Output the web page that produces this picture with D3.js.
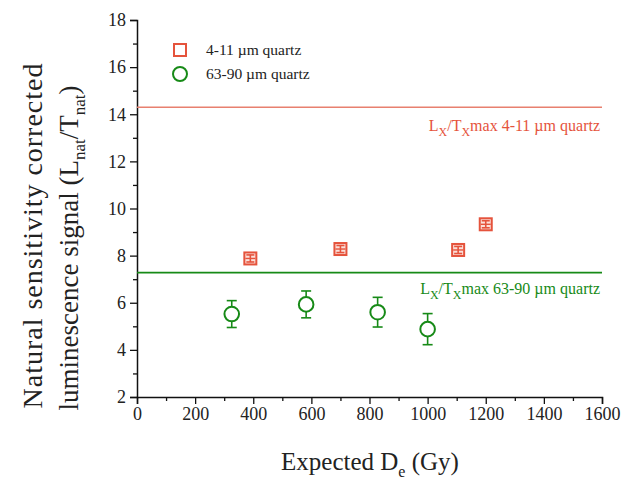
<!DOCTYPE html>
<html>
<head>
<meta charset="utf-8">
<script src="https://cdn.jsdelivr.net/npm/d3@7"></script>
<style>
  body { margin: 0; background: #fff; }
  svg text { font-family: "Liberation Serif", "DejaVu Serif", serif; }
</style>
</head>
<body>
<div id="chart"></div>
<script>
// data
var fineDose = [390, 700, 1105, 1200];
var fineSignal = [7.88, 8.28, 8.24, 9.33];
var fineErr = [0.15, 0.15, 0.15, 0.15];

var coarseDose = [326, 582, 828, 1000];
var coarseSignal = [5.52, 5.93, 5.6, 4.88];
var coarseErr = [0.57, 0.57, 0.63, 0.66];

var fineMax = 14.3;
var coarseMax = 7.28;

var xTicks = [0, 200, 400, 600, 800, 1000, 1200, 1400, 1600];
var yTicks = [2, 4, 6, 8, 10, 12, 14, 16, 18];

var red = '#e5533c', redLine = '#e8806f', green = '#178a17';

var width = 624, height = 479;
var plotLeft = 137, plotRight = 602, plotTop = 20, plotBottom = 397;

var svg = d3.select('#chart').append('svg')
  .attr('width', width).attr('height', height);

var x = d3.scaleLinear().domain([0, 1600]).range([plotLeft, plotRight]);
var y = d3.scaleLinear().domain([2, 18]).range([plotBottom, plotTop]);

// minor ticks first, then the main axes on top
svg.append('g').attr('transform', 'translate(0,' + plotBottom + ')')
  .call(d3.axisBottom(x).tickValues(d3.range(100, 1600, 200)).tickSize(4).tickFormat(''))
  .call(function(g) { g.select('.domain').remove(); });
svg.append('g').attr('transform', 'translate(' + plotLeft + ',0)')
  .call(d3.axisLeft(y).tickValues(d3.range(3, 18, 2)).tickSize(4).tickFormat(''))
  .call(function(g) { g.select('.domain').remove(); });

var xAxis = svg.append('g').attr('transform', 'translate(0,' + plotBottom + ')')
  .call(d3.axisBottom(x).tickValues(xTicks).tickFormat(d3.format('d'))
    .tickSizeOuter(0).tickSize(7).tickPadding(3));
var yAxis = svg.append('g').attr('transform', 'translate(' + plotLeft + ',0)')
  .call(d3.axisLeft(y).tickValues(yTicks).tickFormat(d3.format('d'))
    .tickSizeOuter(0).tickSize(7).tickPadding(4));

svg.selectAll('.tick line').attr('stroke', '#111').attr('stroke-width', 1.3);
svg.selectAll('.domain').attr('stroke', '#111').attr('stroke-width', 1.5);
xAxis.selectAll('text').attr('font-size', 18).attr('fill', '#222')
  .attr('font-family', '"Liberation Serif", serif');
yAxis.selectAll('text').attr('font-size', 18).attr('fill', '#222')
  .attr('font-family', '"Liberation Serif", serif');

// max lines
svg.append('line').attr('x1', plotLeft).attr('x2', plotRight)
  .attr('y1', y(fineMax)).attr('y2', y(fineMax))
  .attr('stroke', redLine).attr('stroke-width', 1.6);
svg.append('line').attr('x1', plotLeft).attr('x2', plotRight)
  .attr('y1', y(coarseMax)).attr('y2', y(coarseMax))
  .attr('stroke', green).attr('stroke-width', 1.6);

function maxLabel(yy, color, tail) {
  var t = svg.append('text').attr('x', 600).attr('y', yy)
    .attr('text-anchor', 'end').attr('font-size', 16).attr('fill', color);
  t.append('tspan').text('L');
  t.append('tspan').attr('dy', 5).attr('font-size', 12).text('X');
  t.append('tspan').attr('dy', -5).text('/T');
  t.append('tspan').attr('dy', 5).attr('font-size', 12).text('X');
  t.append('tspan').attr('dy', -5).text('max ' + tail);
}
maxLabel(y(fineMax) + 24, red, '4-11 \u00b5m quartz');
maxLabel(y(coarseMax) + 21, green, '63-90 \u00b5m quartz');

// error bars
function errorBars(xs, ys, es, color, cap) {
  var g = svg.append('g').attr('stroke', color).attr('stroke-width', 1.6);
  xs.forEach(function(d, i) {
    var x0 = x(d), y1 = y(ys[i] + es[i]), y2 = y(ys[i] - es[i]);
    g.append('line').attr('x1', x0).attr('x2', x0).attr('y1', y1).attr('y2', y2);
    g.append('line').attr('x1', x0 - cap).attr('x2', x0 + cap).attr('y1', y1).attr('y2', y1);
    g.append('line').attr('x1', x0 - cap).attr('x2', x0 + cap).attr('y1', y2).attr('y2', y2);
  });
}

errorBars(coarseDose, coarseSignal, coarseErr, green, 5);
svg.append('g').selectAll('circle').data(coarseDose).join('circle')
  .attr('cx', function(d) { return x(d); })
  .attr('cy', function(d, i) { return y(coarseSignal[i]); })
  .attr('r', 7.3).attr('fill', '#fff').attr('stroke', green).attr('stroke-width', 2);

svg.append('g').selectAll('rect').data(fineDose).join('rect')
  .attr('x', function(d) { return x(d) - 6; })
  .attr('y', function(d, i) { return y(fineSignal[i]) - 6; })
  .attr('width', 12).attr('height', 12)
  .attr('fill', '#fbe0da').attr('stroke', red).attr('stroke-width', 2);
errorBars(fineDose, fineSignal, fineErr, red, 4);
svg.append('g').selectAll('line').data(fineDose).join('line')
  .attr('x1', function(d) { return x(d) - 5; })
  .attr('x2', function(d) { return x(d) + 5; })
  .attr('y1', function(d, i) { return y(fineSignal[i]); })
  .attr('y2', function(d, i) { return y(fineSignal[i]); })
  .attr('stroke', red).attr('stroke-width', 1.4);

// legend
var legend = svg.append('g');
legend.append('rect').attr('x', 174).attr('y', 44).attr('width', 12).attr('height', 12)
  .attr('fill', 'none').attr('stroke', red).attr('stroke-width', 2);
legend.append('text').attr('x', 206).attr('y', 55).attr('font-size', 15.5).attr('fill', '#222')
  .text('4-11 \u00b5m quartz');
legend.append('circle').attr('cx', 180).attr('cy', 74).attr('r', 7)
  .attr('fill', 'none').attr('stroke', green).attr('stroke-width', 2);
legend.append('text').attr('x', 206).attr('y', 79).attr('font-size', 15.5).attr('fill', '#222')
  .text('63-90 \u00b5m quartz');

// axis titles
var xt = svg.append('text').attr('x', 370).attr('y', 470)
  .attr('text-anchor', 'middle').attr('font-size', 25).attr('fill', '#222');
xt.append('tspan').text('Expected D');
xt.append('tspan').attr('dy', 7).attr('font-size', 16).text('e');
xt.append('tspan').attr('dy', -7).text(' (Gy)');

var yt = svg.append('text').attr('transform', 'translate(42,236) rotate(-90)')
  .attr('text-anchor', 'middle').attr('font-size', 28).attr('fill', '#222')
  .attr('textLength', 345).attr('lengthAdjust', 'spacing');
yt.text('Natural sensitivity corrected');

var yt2 = svg.append('text').attr('transform', 'translate(78,248) rotate(-90)')
  .attr('text-anchor', 'middle').attr('font-size', 27).attr('fill', '#222');
yt2.append('tspan').text('luminescence signal (L');
yt2.append('tspan').attr('dy', 7).attr('font-size', 17).text('nat');
yt2.append('tspan').attr('dy', -7).text('/T');
yt2.append('tspan').attr('dy', 7).attr('font-size', 17).text('nat');
yt2.append('tspan').attr('dy', -7).text(')');
</script>
</body>
</html>
